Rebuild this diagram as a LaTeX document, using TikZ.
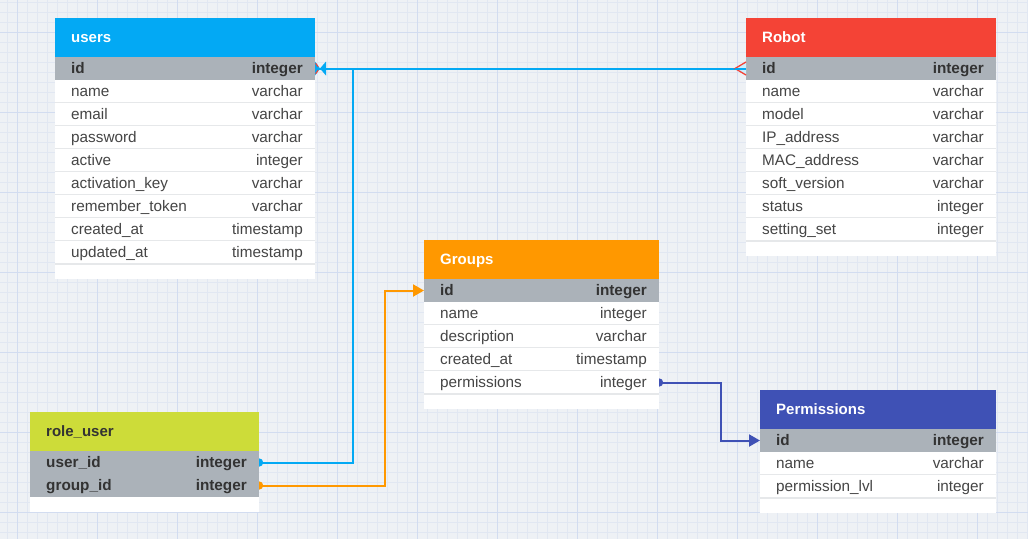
\documentclass[tikz,border=0pt]{standalone}
\usepackage{fontspec}
\setmainfont{Liberation Sans}
\usetikzlibrary{arrows.meta}

\definecolor{canvas}{HTML}{EEF1F5}
\definecolor{gridminor}{HTML}{E1E7F2}
\definecolor{gridmajor}{HTML}{D2DCF0}
\definecolor{pkfill}{HTML}{ABB2B9}
\definecolor{rowline}{HTML}{E6E8EA}
\definecolor{ink}{HTML}{454545}
\definecolor{inkdark}{HTML}{333333}
\definecolor{cUsers}{HTML}{03A9F4}
\definecolor{cRobot}{HTML}{F44336}
\definecolor{cGroups}{HTML}{FF9800}
\definecolor{cRole}{HTML}{CDDC39}
\definecolor{cPerm}{HTML}{3F51B5}

\pgfdeclarelayer{background}
\pgfdeclarelayer{dots}
\pgfsetlayers{background,dots,main}

\tikzset{
  headbox/.style={rectangle, draw=none, inner sep=0, outer sep=0, minimum height=39},
  headtext/.style={inner sep=0, text=white, font=\bfseries\fontsize{15}{18}\selectfont,
    text height=9.5, text depth=0},
  rowpk/.style={rectangle, fill=pkfill, inner sep=0, outer sep=0, minimum height=23},
  rowfld/.style={rectangle, fill=white, inner sep=0, outer sep=0, minimum height=23,
    path picture={\draw[rowline, line width=1.2]
      (path picture bounding box.south west) -- (path picture bounding box.south east);}},
  txtpk/.style={inner sep=0, text=inkdark, font=\bfseries\fontsize{15.3}{18}\selectfont,
    text height=9.5, text depth=0},
  txtfld/.style={inner sep=0, text=ink, font=\fontsize{15.3}{18}\selectfont,
    text height=9.5, text depth=0},
  link/.style={line width=2, line cap=butt, line join=miter},
}

% #1 key, #2 left, #3 top, #4 width, #5 colour, #6 title, #7 number of rows, #8 rows
\newcommand\ertable[8]{%
  \fill[white] (#2,#3) rectangle ++(#4,{39+23*#7+15});
  \node[headbox, fill=#5, minimum width=#4, anchor=north west] (#1) at (#2,#3) {};
  \node[headtext, anchor=west] (#1-title) at ([xshift=16]#1.west) {#6};
  \foreach \a/\b/\s [count=\i from 0] in {#8} {
    \node[row\s, minimum width=#4, anchor=north west] (#1-\i) at (#2,{#3+39+23*\i}) {};
    \node[txt\s, anchor=west] (#1-\i-l) at ([xshift=16]#1-\i.west) {\a};
    \node[txt\s, anchor=east] (#1-\i-r) at ([xshift=-12]#1-\i.east) {\b};
  }%
}

\begin{document}
\begin{tikzpicture}[x=1pt, y=-1pt]
\useasboundingbox (0,0) rectangle (1028,539);

% squared paper
\begin{pgfonlayer}{background}
  \fill[canvas] (0,0) rectangle (1028,539);
  \foreach \x in {7.3,17.3,...,1027.3} \draw[gridminor, line width=0.7] (\x,0) -- (\x,539);
  \foreach \y in {2.5,12.5,...,538.5} \draw[gridminor, line width=0.7] (0,\y) -- (1028,\y);
  \foreach \x in {17.3,97.3,...,977.3} \draw[gridmajor, line width=0.9] (\x,0) -- (\x,539);
  \foreach \y in {32.5,112.5,...,512.5} \draw[gridmajor, line width=0.9] (0,\y) -- (1028,\y);
\end{pgfonlayer}

% tables
\ertable{users}{55}{18}{260}{cUsers}{users}{9}{%
  id/integer/pk, name/varchar/fld, email/varchar/fld, password/varchar/fld,
  active/integer/fld, activation\_key/varchar/fld, remember\_token/varchar/fld,
  created\_at/timestamp/fld, updated\_at/timestamp/fld}

\ertable{robot}{746}{18}{250}{cRobot}{Robot}{8}{%
  id/integer/pk, name/varchar/fld, model/varchar/fld, IP\_address/varchar/fld,
  MAC\_address/varchar/fld, soft\_version/varchar/fld, status/integer/fld,
  setting\_set/integer/fld}

\ertable{groups}{424}{240}{235}{cGroups}{Groups}{5}{%
  id/integer/pk, name/integer/fld, description/varchar/fld,
  created\_at/timestamp/fld, permissions/integer/fld}

\ertable{role}{30}{412}{229}{cRole}{\textcolor{inkdark}{role\_user}}{2}{%
  user\_id/integer/pk, group\_id/integer/pk}

\ertable{perm}{760}{390}{236}{cPerm}{Permissions}{3}{%
  id/integer/pk, name/varchar/fld, permission\_lvl/integer/fld}

% start dots, half hidden under the tables
\begin{pgfonlayer}{dots}
  \fill[cUsers] (role-0.east) circle (4.2);
  \fill[cGroups] (role-1.east) circle (4.2);
  \fill[cPerm] (groups-4.east) circle (4.2);
\end{pgfonlayer}

% robot -- users
\draw[link, cUsers] (robot-0.west) -- (users-0.east);
\filldraw[draw=cRobot, fill=cUsers!20, line width=1.3, line join=miter]
  ([yshift=6.5]robot-0.west) -- ([xshift=-11]robot-0.west) -- ([yshift=-6.5]robot-0.west);
\draw[link, cUsers] ([xshift=-11]robot-0.west) -- (robot-0.west);

% role_user.user_id -> users.id
\draw[link, cUsers] (role-0.east) -| ([xshift=38]users-0.east) -- (users-0.east);
\fill[cUsers] ([xshift=5]users-0.east) -- ([yshift=7]users-0.east) -- ([yshift=-7]users-0.east) -- cycle;
\fill[cUsers] ([xshift=5]users-0.east) -- ([xshift=11,yshift=7]users-0.east) -- ([xshift=11,yshift=-7]users-0.east) -- cycle;
\draw[cRobot, line width=1.1] ([xshift=3.2,yshift=1.8]users-0.east) -- ([xshift=0.6,yshift=5.2]users-0.east);
\draw[cRobot, line width=1.1] ([xshift=3.2,yshift=-1.8]users-0.east) -- ([xshift=0.6,yshift=-5.2]users-0.east);

% role_user.group_id -> groups.id
\draw[link, cGroups, -{Triangle[length=11,width=12]}]
  (role-1.east) -| ([xshift=-39]groups-0.west) -- (groups-0.west);

% groups.permissions -> permissions.id
\draw[link, cPerm, -{Triangle[length=11,width=12]}]
  (groups-4.east) -| ([xshift=-39]perm-0.west) -- (perm-0.west);

\end{tikzpicture}
\end{document}
